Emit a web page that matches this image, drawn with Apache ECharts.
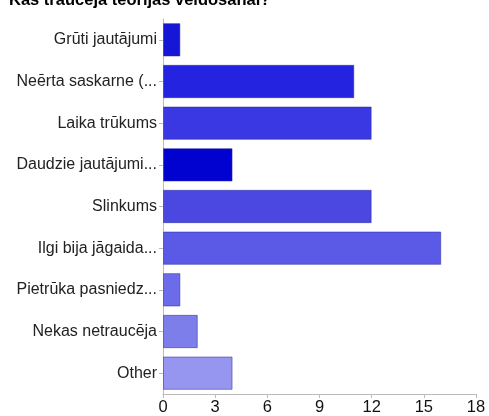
<!DOCTYPE html>
<html><head><meta charset="utf-8">
<script src="https://cdn.jsdelivr.net/npm/echarts@6/dist/echarts.min.js"></script>
<style>html,body{margin:0;padding:0;background:#fff}#c{width:489px;height:416px}</style>
</head><body><div id="c"></div>
<script>
const title = "Kas traucēja teorijas veidošanai?";
const categories = ["Grūti jautājumi","Neērta saskarne (...","Laika trūkums","Daudzie jautājumi...","Slinkums","Ilgi bija jāgaida...","Pietrūka pasniedz...","Nekas netraucēja","Other"];
const values = [1, 11, 12, 4, 12, 16, 1, 2, 4];
const colors = ["#1616d6","#2424e0","#3a38e2","#0202d0","#4a48e0","#5a5ae6","#6c6cea","#7e7eea","#9696f0"];
const xTicks = [0, 3, 6, 9, 12, 15, 18];

const chart = echarts.init(document.getElementById('c'));
chart.setOption({
  animation:false,
  title:{text:title,left:4,top:-13,textStyle:{fontFamily:'Liberation Sans, Arial',fontSize:16.5,fontWeight:'bold',color:'#000'}},
  grid:{left:163,right:13,top:19,bottom:22,containLabel:false},
  xAxis:{type:'value',min:0,max:18,interval:3,
    axisLine:{show:true,lineStyle:{color:'#bbb'}},
    axisTick:{show:true,length:4,inside:false,lineStyle:{color:'#bbb'}},
    splitLine:{show:false},
    axisLabel:{color:'#111',fontSize:16.5,fontFamily:'Liberation Sans, Arial',margin:5,
      formatter:v=>xTicks.includes(v)?String(v):''}},
  yAxis:{type:'category',data:categories,inverse:true,
    axisLine:{show:true,lineStyle:{color:'#bbb'}},
    axisTick:{show:true,length:4,alignWithLabel:true,lineStyle:{color:'#bbb'}},
    axisLabel:{color:'#222',fontSize:16,fontFamily:'Liberation Sans, Arial',margin:6}},
  series:[{type:'bar',barWidth:'80%',
    data:values.map((v,i)=>({value:v,itemStyle:{color:colors[i],borderColor:'rgba(40,40,160,0.5)',borderWidth:1}}))}]
});
</script></body></html>
